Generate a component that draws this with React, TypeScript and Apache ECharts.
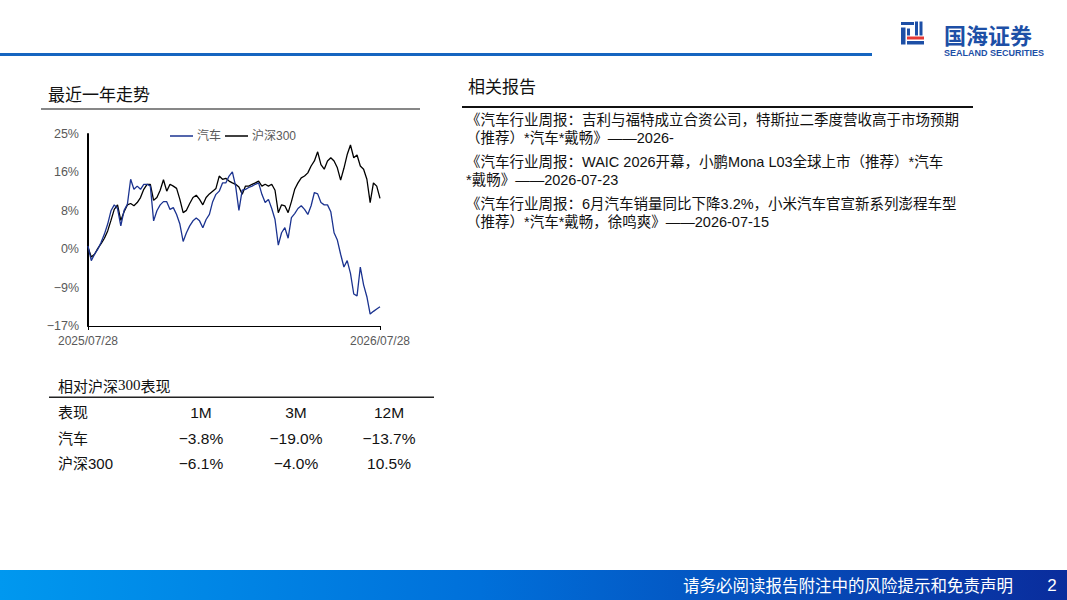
import React, { useEffect, useRef } from "react";
import * as echarts from "echarts";

// ---------- data ----------
const seriesNames = ["汽车", "沪深300"];

const autoValues = [
  0.7, -2.5, -1.1, 0.0, 1.5, 3.3, 5.5, 8.4, 9.7, 8.9,
  5.1, 8.5, 9.8, 15.3, 13.1, 13.8, 13.1, 14.2, 14.2, 13.8,
  6.2, 8.4, 9.7, 10.4, 10.4, 8.7, 9.1, 7.6, 5.5, 1.7,
  3.6, 5.1, 6.2, 6.8, 6.2, 4.7, 6.5, 7.6, 10.4, 12.0,
  12.7, 14.5, 14.5, 16.0, 16.9, 13.8, 8.5, 12.9, 13.1, 13.5,
  13.8, 14.2, 14.5, 12.0, 10.2, 10.9, 8.9, 6.5, 0.9, 3.6,
  4.7, 2.4, 6.9, 7.8, 8.9, 9.5, 8.7, 7.6, 9.5, 12.4,
  12.1, 10.2, 9.7, 9.7, 8.2, 3.6, 2.0, -1.1, -3.9, -2.5,
  -5.3, -9.8, -10.2, -3.9, -7.8, -10.4, -14.2, -13.6, -13.1, -12.6,
];

const hs300Values = [
  0.4, -1.7, -1.1, 0.2, 1.2, 2.4, 4.0, 6.3, 8.7, 9.7,
  6.3, 8.2, 9.7, 10.0, 9.5, 10.2, 11.3, 13.1, 14.2, 14.2,
  10.7, 11.3, 12.9, 15.2, 12.7, 14.2, 13.8, 13.3, 10.9, 8.0,
  8.5, 10.0, 11.3, 11.8, 10.9, 9.7, 11.3, 12.1, 12.7, 13.3,
  16.0, 15.3, 15.5, 14.9, 14.5, 14.2, 13.6, 12.0, 13.8, 13.8,
  14.2, 14.5, 14.9, 13.8, 14.2, 13.8, 14.2, 12.9, 8.0, 9.7,
  9.5, 8.0, 10.4, 13.1, 14.5, 15.6, 16.0, 16.7, 18.2, 19.3,
  21.3, 18.5, 17.5, 19.3, 20.0, 19.3, 17.8, 15.1, 17.7, 20.7,
  22.8, 20.0, 20.6, 18.2, 17.5, 15.3, 10.2, 14.5, 13.8, 11.1,
];

const yTickLabels = ["−17%", "−9%", "0%", "8%", "16%", "25%"];
const Y_MIN = -16.8;
const Y_STEP = 8.4;
const Y_MAX = 25.2;

const START_DATE = [2025, 7, 28];
const END_DATE = [2026, 7, 28];

const tableTitle = "{a|相对沪深}{b|300}{a|表现}";
const tableHeader = ["表现", "1M", "3M", "12M"];
const tableRowAuto = ["汽车", "−3.8%", "−19.0%", "−13.7%"];
const tableRowHs = ["沪深300", "−6.1%", "−4.0%", "10.5%"];

const reportLines = [
  "《汽车行业周报：吉利与福特成立合资公司，特斯拉二季度营收高于市场预期",
  "（推荐）*汽车*戴畅》——2026-",
  "《汽车行业周报：WAIC 2026开幕，小鹏Mona L03全球上市（推荐）*汽车",
  "*戴畅》——2026-07-23",
  "《汽车行业周报：6月汽车销量同比下降3.2%，小米汽车官宣新系列澎程车型",
  "（推荐）*汽车*戴畅，徐鸣爽》——2026-07-15",
];

// ---------- helpers ----------
const pad = (n: number) => (n < 10 ? "0" + n : "" + n);
function buildDates(n: number): string[] {
  const s = Date.UTC(START_DATE[0], START_DATE[1] - 1, START_DATE[2]);
  const e = Date.UTC(END_DATE[0], END_DATE[1] - 1, END_DATE[2]);
  const days = Math.round((e - s) / 86400000);
  const out: string[] = [];
  for (let i = 0; i < n; i++) {
    const d = new Date(s + Math.round((i * days) / (n - 1)) * 86400000);
    out.push(`${d.getUTCFullYear()}/${pad(d.getUTCMonth() + 1)}/${pad(d.getUTCDate())}`);
  }
  return out;
}

const SANS = "'Liberation Sans', 'Noto Sans CJK SC', sans-serif";
const CJK = "'Noto Sans CJK SC', 'Liberation Sans', sans-serif";

export default function App() {
  const ref = useRef<HTMLDivElement>(null);

  useEffect(() => {
    if (!ref.current) return;
    const chart = echarts.init(ref.current, undefined, { renderer: "svg" });
    const categories = buildDates(autoValues.length);
    const last = categories.length - 1;
    const edgeOnly = (i: number) => i === 0 || i === last;

    const graphic: any[] = [];
    // top blue line
    graphic.push({ type: "rect", shape: { x: 0, y: 53, width: 872, height: 3 }, style: { fill: "#1565c0" } });
    // logo icon
    const logoBlue = "#1d4fa6";
    const iconRects = [
      [901, 22, 13, 3, logoBlue],
      [901, 27.5, 4.5, 17, logoBlue],
      [907, 28.5, 3, 7, logoBlue],
      [915, 21.5, 3, 14, logoBlue],
      [919.5, 21.5, 3, 14, logoBlue],
      [907, 36.5, 17, 3, "#e53935"],
      [907, 41, 17, 3.5, logoBlue],
    ];
    iconRects.forEach((r) =>
      graphic.push({ type: "rect", shape: { x: r[0], y: r[1], width: r[2], height: r[3] }, style: { fill: r[4] } })
    );
    graphic.push({
      type: "text",
      style: { text: "国海证券", x: 944, y: 33.5, fill: logoBlue, fontSize: 22, fontWeight: "bold", fontFamily: CJK, textVerticalAlign: "middle" },
    });
    graphic.push({
      type: "text",
      style: { text: "SEALAND SECURITIES", x: 944, y: 52.5, fill: logoBlue, fontSize: 9, fontWeight: "bold", fontFamily: SANS, textVerticalAlign: "middle" },
    });

    // section titles
    graphic.push({
      type: "text",
      style: { text: "最近一年走势", x: 48, y: 93, fill: "#111", fontSize: 17, fontFamily: CJK, textVerticalAlign: "middle" },
    });
    graphic.push({ type: "rect", shape: { x: 41, y: 108.5, width: 379, height: 1 }, style: { fill: "#111" } });
    graphic.push({
      type: "text",
      style: { text: "相关报告", x: 468, y: 85, fill: "#111", fontSize: 17, fontFamily: CJK, textVerticalAlign: "middle" },
    });
    graphic.push({ type: "rect", shape: { x: 462, y: 106, width: 511, height: 2 }, style: { fill: "#111" } });

    const reportY = [120, 137.5, 162, 180, 204, 221.5];
    reportLines.forEach((t, i) =>
      graphic.push({
        type: "text",
        style: { text: t, x: 466, y: reportY[i], fill: "#111", fontSize: 14.5, fontFamily: SANS, textVerticalAlign: "middle" },
      })
    );

    // table
    graphic.push({
      type: "text",
      style: {
        text: tableTitle,
        x: 58,
        y: 385,
        textVerticalAlign: "middle",
        rich: {
          a: { fontSize: 15, fontFamily: CJK, fill: "#111" },
          b: { fontSize: 15, fontFamily: "'Liberation Serif', serif", fill: "#111" },
        },
      },
    });
    graphic.push({ type: "rect", shape: { x: 49, y: 396.5, width: 385, height: 1.5 }, style: { fill: "#222" } });
    const colX = [58, 201, 296, 389];
    const rowY = [412, 438, 463];
    [tableHeader, tableRowAuto, tableRowHs].forEach((row, ri) =>
      row.forEach((cell, ci) =>
        graphic.push({
          type: "text",
          style: {
            text: cell,
            x: colX[ci],
            y: rowY[ri],
            fill: "#111",
            fontSize: ci === 0 ? 15 : 15.5,
            fontFamily: SANS,
            textAlign: ci === 0 ? "left" : "center",
            textVerticalAlign: "middle",
          },
        })
      )
    );

    // footer
    graphic.push({
      type: "rect",
      shape: { x: 0, y: 570, width: 1067, height: 30 },
      style: {
        fill: new echarts.graphic.LinearGradient(0, 0, 1, 0, [
          { offset: 0, color: "#0098ef" },
          { offset: 0.45, color: "#0070da" },
          { offset: 1, color: "#0a2c9c" },
        ]),
      },
    });
    graphic.push({
      type: "text",
      style: { text: "请务必阅读报告附注中的风险提示和免责声明", x: 1013, y: 585, fill: "#fff", fontSize: 16.5, fontFamily: CJK, textAlign: "right", textVerticalAlign: "middle" },
    });
    graphic.push({
      type: "text",
      style: { text: "2", x: 1052, y: 585, fill: "#fff", fontSize: 17, fontFamily: SANS, textAlign: "center", textVerticalAlign: "middle" },
    });

    chart.setOption({
      animation: false,
      backgroundColor: "#ffffff",
      textStyle: { fontFamily: SANS },
      legend: {
        data: seriesNames,
        left: 165,
        top: 125,
        itemWidth: 23,
        itemHeight: 1.5,
        itemGap: 4,
        icon: "rect",
        textStyle: { color: "#595959", fontSize: 12, fontFamily: SANS, padding: [0, 0, 0, -1] },
      },
      grid: { left: 88, right: 1067 - 380, top: 134, bottom: 600 - 326, containLabel: false, outerBoundsMode: "none" },
      xAxis: {
        type: "category",
        data: categories,
        boundaryGap: false,
        axisLine: { show: true, onZero: false, lineStyle: { color: "#000", width: 1 } },
        axisTick: { show: true, interval: edgeOnly, length: 4, lineStyle: { color: "#000" } },
        axisLabel: {
          interval: edgeOnly,
          showMinLabel: true,
          showMaxLabel: true,
          color: "#595959",
          fontSize: 12,
          margin: 9,
          fontFamily: SANS,
        },
        splitLine: { show: false },
      },
      yAxis: {
        type: "value",
        min: Y_MIN,
        max: Y_MAX,
        interval: Y_STEP,
        axisLine: { show: true, lineStyle: { color: "#000", width: 2 } },
        axisTick: { show: false },
        splitLine: { show: false },
        axisLabel: {
          color: "#595959",
          fontSize: 12.5,
          margin: 9,
          fontFamily: SANS,
          formatter: (v: number) => yTickLabels[Math.round((v - Y_MIN) / Y_STEP)] ?? "",
        },
      },
      series: [
        {
          name: seriesNames[1],
          type: "line",
          data: hs300Values,
          showSymbol: false,
          color: "#000000",
          lineStyle: { width: 1.3, color: "#000000" },
          z: 2,
        },
        {
          name: seriesNames[0],
          type: "line",
          data: autoValues,
          showSymbol: false,
          color: "#1b3390",
          lineStyle: { width: 1.3, color: "#1b3390" },
          z: 3,
        },
      ],
      graphic,
    });

    return () => chart.dispose();
  }, []);

  return (
    <div
      ref={ref}
      style={{ position: "fixed", left: 0, top: 0, width: 1067, height: 600, background: "#fff" }}
    />
  );
}
